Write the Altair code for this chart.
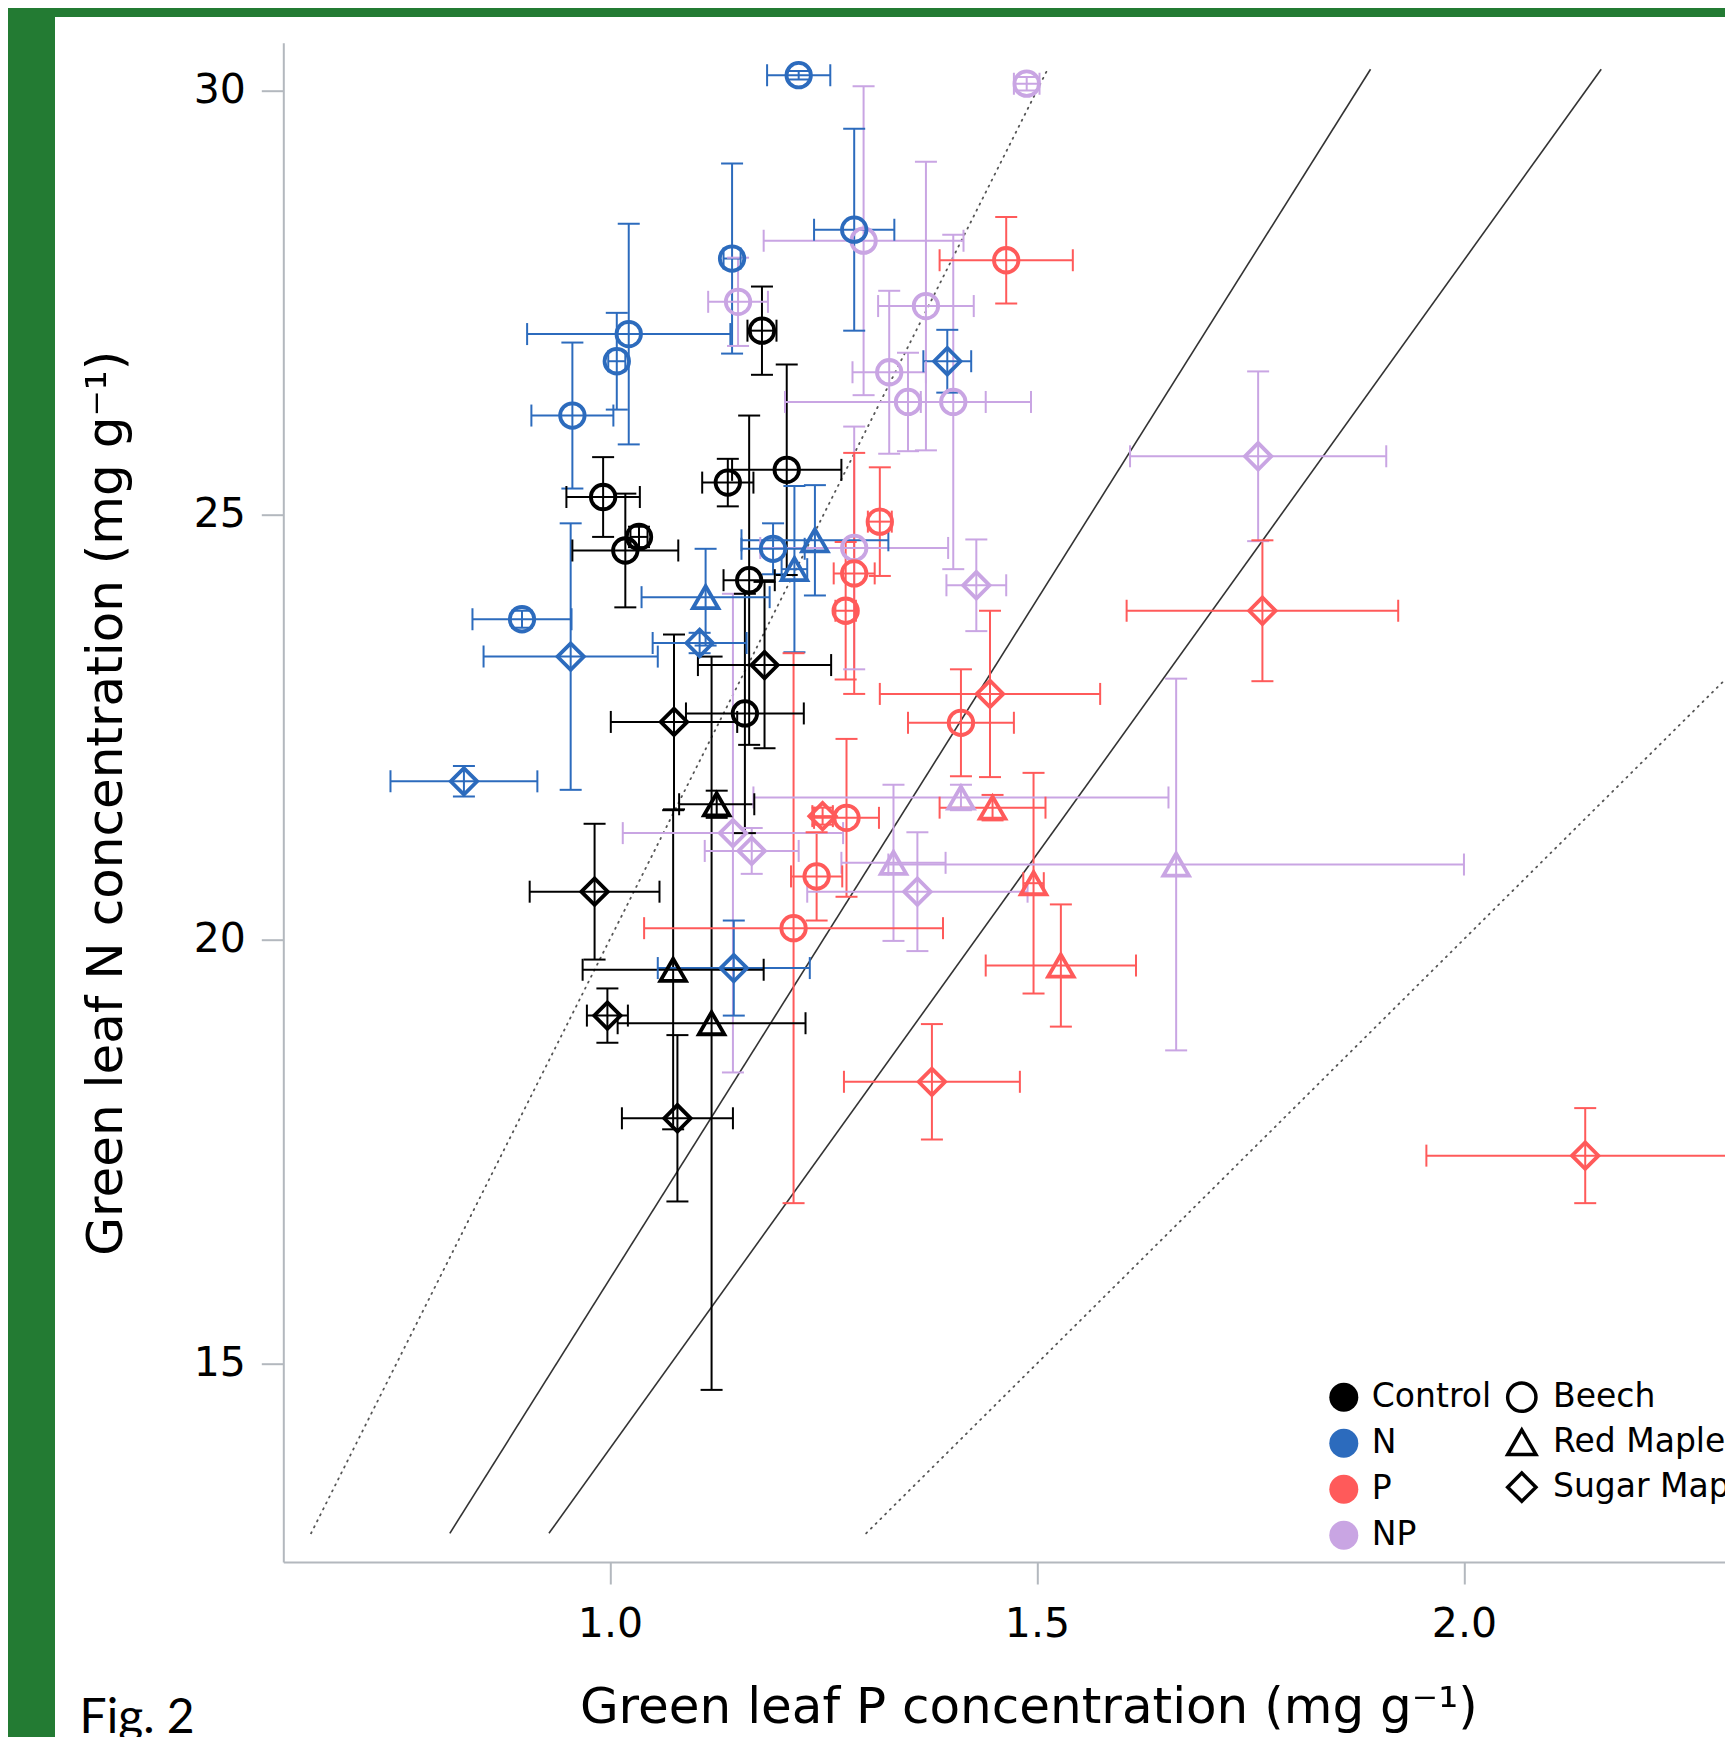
import altair as alt
import pandas as pd

# ---------------- data ----------------
treatments = ["Control", "N", "P", "NP"]
treatment_colors = ["#000000", "#2c6bbd", "#ff5a5a", "#c9a5e3"]
species = ["Beech", "Red Maple", "Sugar Maple"]
species_shapes = ["circle", "triangle-up", "diamond"]
species_sizes = [600, 700, 860]

point_treatment = ["Control"] * 16 + ["N"] * 16 + ["P"] * 16 + ["NP"] * 16
point_species = (["Beech"] * 8 + ["Red Maple"] * 3 + ["Sugar Maple"] * 5) * 4

leaf_p = [
    1.178, 0.992, 1.138, 1.207, 1.034, 1.018, 1.163, 1.158,
    1.125, 1.074, 1.119,
    1.181, 1.075, 0.982, 0.997, 1.079,
    1.221, 1.286, 1.143, 1.022, 1.008, 0.956, 0.897, 1.191,
    1.240, 1.216, 1.112,
    1.395, 1.105, 0.954, 0.829, 1.145,
    1.464, 1.316, 1.286, 1.276, 1.411, 1.277, 1.242, 1.215,
    1.448, 1.496, 1.528,
    1.445, 1.764, 1.249, 1.377, 2.142,
    1.488, 1.297, 1.150, 1.370, 1.327, 1.349, 1.402, 1.286,
    1.411, 1.332, 1.663,
    1.759, 1.429, 1.144, 1.166, 1.360,
]
leaf_n = [
    27.17, 25.21, 25.38, 25.53, 24.74, 24.58, 24.23, 22.66,
    21.59, 19.64, 19.01,
    23.23, 22.56, 20.56, 19.10, 17.89,
    30.18, 28.36, 28.02, 27.13, 26.81, 26.17, 23.77, 24.60,
    24.70, 24.36, 24.03,
    26.81, 23.49, 23.33, 21.86, 19.66,
    28.00, 24.92, 24.31, 23.87, 22.55, 21.43, 20.74, 20.13,
    21.55, 20.66, 19.69,
    22.89, 23.87, 21.45, 18.32, 17.45,
    30.08, 28.23, 27.51, 27.46, 26.68, 26.33, 26.33, 24.61,
    21.67, 20.90, 20.88,
    25.69, 24.17, 21.25, 21.04, 20.56,
]
p_err = [
    0.017, 0.043, 0.030, 0.064, 0.010, 0.062, 0.030, 0.069,
    0.044, 0.106, 0.110,
    0.078, 0.074, 0.076, 0.024, 0.065,
    0.037, 0.047, 0.010, 0.119, 0.010, 0.048, 0.058, 0.037,
    0.086, 0.015, 0.075,
    0.028, 0.055, 0.102, 0.086, 0.089,
    0.078, 0.014, 0.024, 0.012, 0.062, 0.038, 0.030, 0.175,
    0.062, 0.012, 0.088,
    0.129, 0.159, 0.012, 0.103, 0.186,
    0.015, 0.117, 0.035, 0.056, 0.043, 0.144, 0.038, 0.110,
    0.243, 0.061, 0.337,
    0.150, 0.035, 0.129, 0.055, 0.129,
]
n_err = [
    0.52, 0.47, 0.28, 1.24, 0.12, 0.67, 1.94, 1.41,
    0.16, 1.88, 4.32,
    0.98, 1.03, 0.80, 0.32, 0.98,
    0.05, 1.19, 1.12, 1.30, 0.57, 0.86, 0.10, 0.30,
    0.65, 0.98, 0.57,
    0.37, 0.12, 1.57, 0.18, 0.56,
    0.51, 0.64, 1.42, 0.81, 0.63, 0.93, 0.52, 3.24,
    0.15, 1.30, 0.72,
    0.98, 0.83, 0.10, 0.68, 0.56,
    0.08, 1.82, 0.52, 1.70, 0.96, 0.58, 1.97, 1.43,
    0.15, 0.92, 2.19,
    1.00, 0.54, 2.82, 0.27, 0.70,
]

# N:P ratio reference lines
ratio_values = [20, 16, 14, 10]
ratio_dotted = [True, False, False, True]
ratio_n_ends = [13.0, 30.25]

x_ticks = [1.0, 1.5, 2.0]
y_ticks = [15, 20, 25, 30]
x_title = "Green leaf P concentration (mg g\u207b\u00b9)"
y_title = "Green leaf N concentration (mg g\u207b\u00b9)"
fig_label = "Fig. 2"

# ---------------- tables ----------------
draw_rank = {"NP": 0, "P": 1, "N": 2, "Control": 3}
df = pd.DataFrame({
    "treatment": point_treatment,
    "species": point_species,
    "P": leaf_p,
    "N": leaf_n,
    "pe": p_err,
    "ne": n_err,
})
df["p_lo"] = df["P"] - df["pe"]
df["p_hi"] = df["P"] + df["pe"]
df["n_lo"] = df["N"] - df["ne"]
df["n_hi"] = df["N"] + df["ne"]
df["rank"] = df["treatment"].map(draw_rank)
df = df.sort_values("rank", kind="stable").reset_index(drop=True)

line_rows = []
for r, dotted in zip(ratio_values, ratio_dotted):
    for n in ratio_n_ends:
        line_rows.append({"ratio": r, "dotted": dotted, "N": n, "P": n / r})
lines_df = pd.DataFrame(line_rows)

one = pd.DataFrame({"k": [0]})

# ---------------- scales / axes ----------------
FONT = "DejaVu Sans"
AX_COL = "#b3b8be"
GREEN = "#237b33"
PAD_L, PAD_T = 275.3, 34.7
PLOT_W = 1441.7
PLOT_H = 1519.3

xscale = alt.Scale(domain=[0.6175, 0.6175 + PLOT_W / 854.0], nice=False, zero=False)
yscale = alt.Scale(domain=[12.662, 30.563], nice=False, zero=False)

x_axis = alt.Axis(
    values=x_ticks, format=".1f", title=x_title,
    labelBaseline="alphabetic", labelPadding=52,
    titleX=745, titleY=160.7, titleAlign="center", titleBaseline="alphabetic",
    titleAngle=0,
)
y_axis = alt.Axis(
    values=y_ticks, format="d", title=y_title,
    labelPadding=16,
    titleX=-162, titleY=760, titleAlign="center", titleBaseline="alphabetic",
    titleAngle=270,
)

def X(field):
    return alt.X(field, type="quantitative", scale=xscale, axis=x_axis)

def Y(field):
    return alt.Y(field, type="quantitative", scale=yscale, axis=y_axis)

# data-driven domain (sorted) so it is not merged with the legend's fill scale
col = alt.Color("treatment:N", sort=treatments,
                scale=alt.Scale(range=treatment_colors), legend=None)

# green frame (top and left strips of the slide)
frame_top = alt.Chart(one).mark_rect(color=GREEN).encode(
    x=alt.value(-PAD_L), x2=alt.value(PLOT_W + 10),
    y=alt.value(-PAD_T), y2=alt.value(17 - 42.7),
)
frame_left = alt.Chart(one).mark_rect(color=GREEN).encode(
    x=alt.value(-PAD_L), x2=alt.value(55 - 283.3),
    y=alt.value(-PAD_T), y2=alt.value(1760),
)

solid_lines = alt.Chart(lines_df).transform_filter("!datum.dotted").mark_line(
    clip=True, color="#333333", strokeWidth=1.6
).encode(x=X("P"), y=Y("N"), detail="ratio:N")

dotted_lines = alt.Chart(lines_df).transform_filter("datum.dotted").mark_line(
    clip=True, color="#555555", strokeWidth=1.8, strokeDash=[1.2, 5.5], strokeCap="round"
).encode(x=X("P"), y=Y("N"), detail="ratio:N")

base = alt.Chart(df)

v_rule = base.mark_rule(strokeWidth=2, clip=True).encode(
    x=X("P"), y=Y("n_lo"), y2="n_hi", color=col
)
h_rule = base.mark_rule(strokeWidth=2, clip=True).encode(
    x=X("p_lo"), x2="p_hi", y=Y("N"), color=col
)
cap_kw = dict(size=22, thickness=2, opacity=1, clip=True)
cap_lo = base.mark_tick(orient="horizontal", **cap_kw).encode(x=X("P"), y=Y("n_lo"), color=col)
cap_hi = base.mark_tick(orient="horizontal", **cap_kw).encode(x=X("P"), y=Y("n_hi"), color=col)
cap_l = base.mark_tick(orient="vertical", **cap_kw).encode(x=X("p_lo"), y=Y("N"), color=col)
cap_r = base.mark_tick(orient="vertical", **cap_kw).encode(x=X("p_hi"), y=Y("N"), color=col)

points = base.mark_point(filled=False, strokeWidth=3.8, opacity=1, clip=True).encode(
    x=X("P"),
    y=Y("N"),
    color=col,
    shape=alt.Shape(
        "species:N",
        scale=alt.Scale(domain=species, range=species_shapes),
        legend=alt.Legend(
            title=None, orient="none", legendX=1222, legendY=1338,
            symbolSize=800, symbolStrokeColor="black", symbolStrokeWidth=3.5,
            labelOffset=14.7, rowPadding=4, padding=0,
        ),
    ),
    size=alt.Size("species:N", sort=species,
                  scale=alt.Scale(range=species_sizes), legend=None),
)

legend_layer = base.mark_point(filled=True, size=0, opacity=1).encode(
    x=X("P"),
    y=Y("N"),
    fill=alt.Fill(
        "treatment:N",
        scale=alt.Scale(domain=treatments, range=treatment_colors),
        legend=alt.Legend(
            title=None, orient="none", legendX=1044, legendY=1338,
            symbolType="circle", symbolSize=841, symbolStrokeWidth=0,
            labelOffset=11.5, rowPadding=12, padding=0,
        ),
    ),
)

fig_text = alt.Chart(one).mark_text(
    text=fig_label, font="Lato", fontSize=48, align="left", baseline="alphabetic", color="black"
).encode(x=alt.value(79.6 - 283.3), y=alt.value(1733.3 - 42.7))

chart = alt.layer(
    frame_top, frame_left, solid_lines, dotted_lines, v_rule, h_rule,
    cap_lo, cap_hi, cap_l, cap_r, points, legend_layer, fig_text,
).properties(
    width=PLOT_W,
    height=PLOT_H,
    padding={"left": PAD_L, "top": PAD_T, "right": 0, "bottom": 175},
    autosize=alt.AutoSizeParams(type="none"),
    background="white",
).configure_view(
    stroke=None
).configure_axis(
    grid=False,
    domainColor=AX_COL, domainWidth=2,
    tickColor=AX_COL, tickWidth=2, tickSize=22,
    labelFont=FONT, labelFontSize=41, labelColor="black",
    titleFont=FONT, titleFontSize=50, titleFontWeight="normal", titleColor="black",
    labelFlush=False, labelOverlap=False,
).configure_legend(
    labelFont=FONT, labelFontSize=33, labelColor="black", labelLimit=500,
)

chart.save("out.html", embed_options={"renderer": "svg", "actions": False})
